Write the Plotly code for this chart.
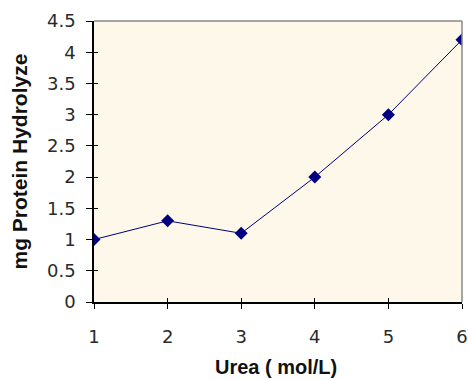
import plotly.graph_objects as go

urea = [1, 2, 3, 4, 5, 6]
protein = [1.0, 1.3, 1.1, 2.0, 3.0, 4.2]
x_ticks = [1, 2, 3, 4, 5, 6]
y_ticks = [0, 0.5, 1, 1.5, 2, 2.5, 3, 3.5, 4, 4.5]
x_title = "<b>Urea ( mol/L)</b>"
y_title = "<b>mg Protein Hydrolyze</b>"

fig = go.Figure()
fig.add_trace(go.Scatter(
    x=urea, y=protein, mode="lines+markers",
    line=dict(color="#000080", width=1),
    marker=dict(symbol="diamond", size=10, color="#000080"),
    showlegend=False,
))
# overlay trace to carry inner ticks
fig.add_trace(go.Scatter(x=urea, y=protein, xaxis="x2", yaxis="y2",
                         mode="none", showlegend=False, hoverinfo="skip"))

tfont = dict(family="DejaVu Sans, sans-serif", size=18, color="#2a2a2a")
ttl = dict(family="Liberation Sans, Arial, sans-serif", size=21, color="#111111")
fig.update_layout(
    width=468, height=380,
    margin=dict(l=94, r=6, t=21, b=78),
    paper_bgcolor="white",
    plot_bgcolor="#FDF8E9",
    font=tfont,
    xaxis=dict(range=[1, 6], tickvals=x_ticks, ticks="outside", ticklen=5,
               tickcolor="black", showgrid=False, zeroline=False,
               showline=True, linecolor="black", linewidth=1.5,
               tickfont=tfont, ticklabelstandoff=13, automargin=False),
    yaxis=dict(range=[0, 4.5], tickvals=y_ticks, ticks="outside", ticklen=6,
               tickcolor="black", showgrid=False, zeroline=False,
               showline=True, linecolor="black", linewidth=1.5,
               tickfont=tfont, ticklabelstandoff=7, automargin=False),
    xaxis2=dict(range=[1, 6], tickvals=x_ticks, ticks="inside", ticklen=4,
                tickcolor="black", showgrid=False, zeroline=False,
                showticklabels=False, overlaying="x", anchor="y2", side="bottom"),
    yaxis2=dict(range=[0, 4.5], tickvals=y_ticks, ticks="inside", ticklen=4,
                tickcolor="black", showgrid=False, zeroline=False,
                showticklabels=False, overlaying="y", anchor="x2", side="left"),
    shapes=[
        dict(type="line", xref="paper", yref="paper", x0=0, x1=1, y0=1, y1=1,
             line=dict(color="#888888", width=1.5)),
        dict(type="line", xref="paper", yref="paper", x0=1, x1=1, y0=0, y1=1,
             line=dict(color="#888888", width=1.5)),
    ],
    annotations=[
        dict(text=x_title, xref="paper", yref="paper", x=0.5, y=0,
             xanchor="center", yanchor="middle", yshift=-65, xshift=-2,
             showarrow=False, font=dict(ttl, size=20), borderpad=0),
        dict(text=y_title, xref="paper", yref="paper", x=0, y=0.5,
             xanchor="center", yanchor="middle", xshift=-75, textangle=-90,
             showarrow=False, font=ttl),
    ],
)

fig.write_html("out.html")
